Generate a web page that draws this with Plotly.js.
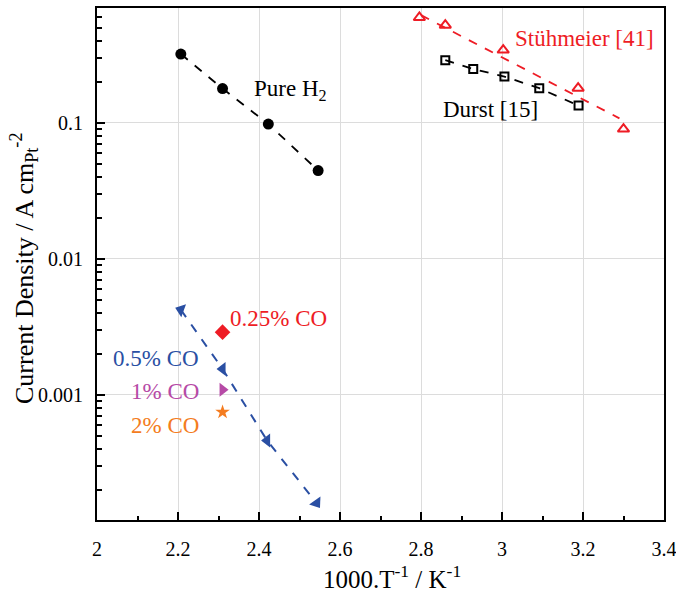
<!DOCTYPE html>
<html><head><meta charset="utf-8">
<script src="https://cdn.plot.ly/plotly-3.0.1.min.js"></script>
<style>html,body{margin:0;padding:0;background:#fff}#chart{width:676px;height:594px}</style>
</head><body><div id="chart"></div>
<script>
// Data
const pureH2X = [2.207, 2.31, 2.423, 2.546];
const pureH2Y = [0.321, 0.179, 0.098, 0.0446];

const durstX = [2.86, 2.929, 3.006, 3.092, 3.189];
const durstY = [0.289, 0.249, 0.219, 0.18, 0.134];

const stuhX = [2.796, 2.86, 3.003, 3.188, 3.30];
const stuhY = [0.596, 0.523, 0.343, 0.18, 0.09];
const stuhFitX = [2.80, 3.29];
const stuhFitY = [0.62, 0.108];

const co05X = [2.207, 2.31, 2.42, 2.542];
const co05Y = [0.00422, 0.00155, 0.000461, 0.00016];
const co025X = [2.31];
const co025Y = [0.00289];
const co1X = [2.31];
const co1Y = [0.00109];
const co2X = [2.31];
const co2Y = [0.000746];

const xTickVals = [2, 2.2, 2.4, 2.6, 2.8, 3, 3.2, 3.4];
const yMinorVals = [2e-4,3e-4,4e-4,5e-4,6e-4,7e-4,8e-4,9e-4,
                    2e-3,3e-3,4e-3,5e-3,6e-3,7e-3,8e-3,9e-3,
                    2e-2,3e-2,4e-2,5e-2,6e-2,7e-2,8e-2,9e-2,
                    0.2,0.3,0.4,0.5,0.6];

const xTitle = '1000.T<sup>-1</sup> / K<sup>-1</sup>';
const yTitle = 'Current Density / A cm<sub>Pt</sub><sup>-2</sup>';

const BLUE = '#2a4fa3', RED = '#ee1c25', MAG = '#b64aa6', ORANGE = '#f47c20';
const FONT = 'Liberation Serif';
const YRANGE = [Math.log10(1.2e-4), Math.log10(0.7)];

const traces = [
  {x: pureH2X, y: pureH2Y, yaxis: 'y2', mode: 'lines', line: {width: 0}, opacity: 0, hoverinfo: 'skip'},
  {x: stuhFitX, y: stuhFitY, mode: 'lines', line: {color: RED, dash: 'dash', width: 1.8}, hoverinfo: 'skip'},
  {x: stuhX, y: stuhY, mode: 'markers', marker: {symbol: 'triangle-up-open', size: 10, color: RED, line: {width: 2, color: RED}}},
  {x: durstX, y: durstY, mode: 'lines+markers', line: {color: '#000', dash: 'dash', width: 1.8},
   marker: {symbol: 'square-open', size: 8, color: '#000', line: {width: 2, color: '#000'}}},
  {x: pureH2X, y: pureH2Y, mode: 'lines+markers', line: {color: '#000', dash: 'dash', width: 1.8},
   marker: {symbol: 'circle', size: 11, color: '#000'}},
  {x: co05X, y: co05Y, mode: 'lines+markers', line: {color: BLUE, dash: 'dash', width: 2},
   marker: {symbol: ['triangle-left', 'triangle-left', 'triangle-left', 'triangle-right'], angle: [20, 0, 0, 55], size: 12, color: BLUE}},
  {x: co025X, y: co025Y, mode: 'markers', marker: {symbol: 'diamond', size: 12, color: RED}},
  {x: co1X, y: co1Y, mode: 'markers', marker: {symbol: 'triangle-right', size: 12, color: MAG}},
  {x: co2X, y: co2Y, mode: 'markers', marker: {symbol: 'star', size: 11, color: ORANGE}}
];

function px(x) { return (x - 97) / 567; }
function py(y) { return (520 - y) / 512; }
function ann(text, x, y, color, anchor, size, angle) {
  return {text: text, xref: 'paper', yref: 'paper', x: px(x), y: py(y), xanchor: anchor || 'center', yanchor: 'middle',
    showarrow: false, textangle: angle || 0, font: {family: FONT, size: size || 23, color: color}};
}

const layout = {
  width: 676, height: 594,
  margin: {l: 97, r: 12, t: 8, b: 74},
  paper_bgcolor: '#fff', plot_bgcolor: '#fff',
  showlegend: false,
  font: {family: FONT, size: 20, color: '#000'},
  xaxis: {
    range: [2, 3.4], tickvals: xTickVals, ticktext: xTickVals.map(String),
    ticks: 'inside', ticklen: 8, tickwidth: 2, tickcolor: '#000',
    showline: true, linecolor: '#000', linewidth: 2, mirror: true,
    showgrid: true, gridcolor: '#dcdcdc', gridwidth: 1, zeroline: false,
    minor: {dtick: 0.1, ticks: 'inside', ticklen: 4, tickwidth: 2, tickcolor: '#000', showgrid: false},
    tickfont: {family: FONT, size: 20}, ticklabelstandoff: 10, ticklabeloverflow: 'allow'
  },
  yaxis: {
    type: 'log', range: YRANGE,
    tickmode: 'linear', tick0: 0, dtick: 1, exponentformat: 'none',
    ticks: 'inside', ticklen: 8, tickwidth: 2, tickcolor: '#000',
    showline: true, linecolor: '#000', linewidth: 2, mirror: true,
    showgrid: true, gridcolor: '#dcdcdc', gridwidth: 1, zeroline: false,
    tickfont: {family: FONT, size: 20}, ticklabelstandoff: 8
  },
  yaxis2: {
    type: 'log', range: YRANGE, overlaying: 'y', anchor: 'x', side: 'left',
    tickmode: 'array', tickvals: yMinorVals, showticklabels: false,
    ticks: 'inside', ticklen: 5, tickwidth: 2, tickcolor: '#000',
    showgrid: false, zeroline: false, showline: false
  },
  annotations: [
    ann(xTitle, 392, 577, '#000', 'center', 25),
    ann(yTitle, 24, 268, '#000', 'center', 26, -90),
    ann('Pure H<sub>2</sub>', 252, 90, '#000', 'left'),
    ann('Stühmeier [41]', 513, 38, RED, 'left'),
    ann('Durst [15]', 441, 109, '#000', 'left'),
    ann('0.25% CO', 228, 318, RED, 'left'),
    ann('0.5% CO', 201, 358, BLUE, 'right'),
    ann('1% CO', 201, 391, MAG, 'right'),
    ann('2% CO', 201, 425, ORANGE, 'right')
  ]
};

Plotly.newPlot('chart', traces, layout, {displayModeBar: false, staticPlot: true});
</script></body></html>
